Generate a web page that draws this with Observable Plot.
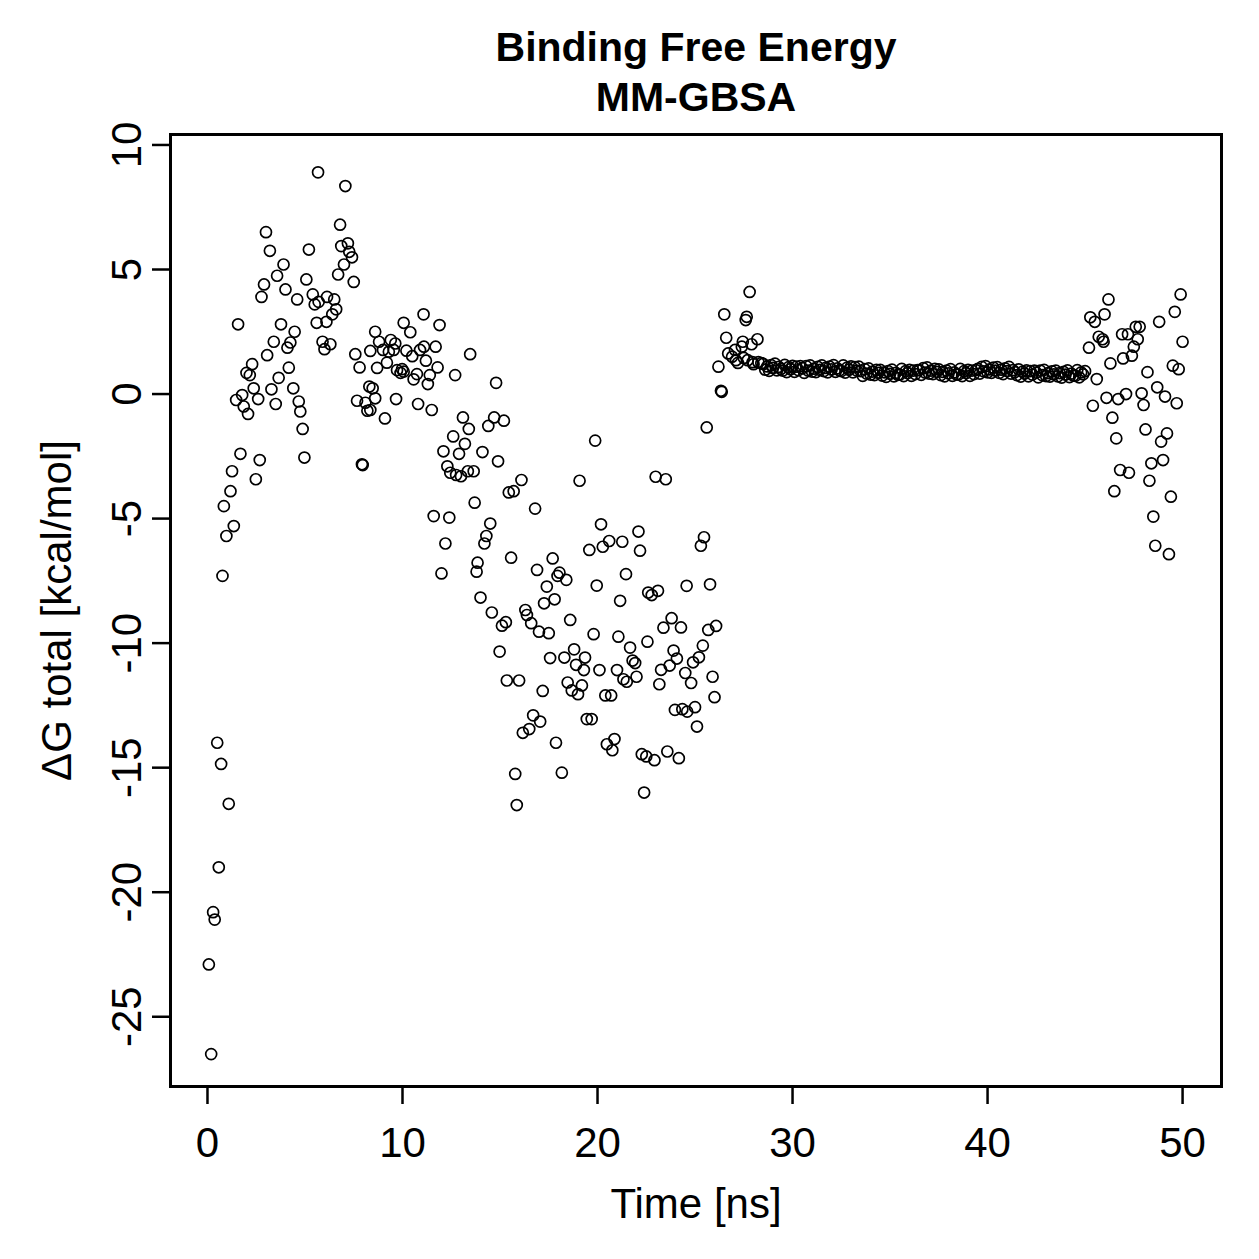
<!DOCTYPE html>
<html>
<head>
<meta charset="utf-8">
<script src="https://cdn.jsdelivr.net/npm/d3@7"></script>
<script src="https://cdn.jsdelivr.net/npm/@observablehq/plot@0.6"></script>
<style>
  body { margin: 0; background: #fff; }
</style>
</head>
<body>
<div id="chart"></div>
<script>
// MM-GBSA binding free energy per frame: [time (ns), ΔG total (kcal/mol)]
const rampPoints = [
  [0.07,-22.9],[0.19,-26.5],[0.29,-20.8],[0.37,-21.1],[0.50,-14.0],[0.58,-19.0],[0.70,-14.85],[0.77,-7.3],
  [0.84,-4.5],[0.97,-5.7],[1.09,-16.45],[1.18,-3.9],[1.26,-3.1],[1.35,-5.3],[1.47,-0.24],[1.57,2.8],
  [1.69,-2.4],[1.78,-0.04],[1.86,-0.5],[2.0,0.85],[2.08,-0.8],[2.17,0.76],[2.29,1.2],[2.37,0.23],
  [2.48,-3.42],[2.6,-0.2],[2.68,-2.65],[2.77,3.9],[2.9,4.4],[3.0,6.5],[3.06,1.56],[3.2,5.75],
  [3.28,0.19],[3.4,2.1],[3.5,-0.4],[3.57,4.75],[3.65,0.65],[3.77,2.8],[3.9,5.2],[4.0,4.2],
  [4.1,1.86],[4.17,1.06],[4.25,2.07],[4.4,0.23],[4.47,2.5],[4.6,3.8],[4.68,-0.3],[4.76,-0.7],
  [4.88,-1.4],[4.97,-2.55],[5.07,4.6],[5.2,5.8],[5.4,4.0],[5.5,3.6],[5.6,2.86],[5.67,8.9],
  [5.7,3.7],[5.9,2.1],[6.0,1.8],[6.13,3.9],[6.1,2.9],[6.3,2.0],[6.4,3.2],[6.5,3.8],
  [6.6,3.4],[6.7,4.8],[6.8,6.8],[6.86,5.94],[7.0,5.2],[7.07,8.35],[7.2,6.05],[7.27,5.71],
  [7.41,5.49],[7.5,4.5],[7.58,1.6],[7.67,-0.27],[7.8,1.07],[7.92,-2.82],[7.96,-2.85]
];

const dropPoints = [
  [8.1,-0.35],[8.2,-0.67],[8.3,0.3],[8.35,1.73],[8.35,-0.64],[8.47,0.23],[8.6,2.5],[8.6,-0.17],
  [8.7,1.05],[8.8,2.1],[9.0,1.77],[9.1,-0.98],[9.2,1.26],[9.3,1.7],[9.4,2.17],[9.55,1.77],
  [9.63,2.03],[9.67,-0.2],[9.72,0.96],[9.9,0.85],[9.98,1.0],[10.06,2.86],[10.06,0.9],[10.2,1.74],
  [10.4,2.48],[10.5,1.52],[10.57,0.59],[10.74,0.8],[10.8,-0.4],[10.9,1.77],[11.08,3.2],[11.1,1.9],
  [11.2,1.34],[11.3,0.4],[11.4,0.76],[11.5,-0.64],[11.6,-4.9],[11.7,1.9],[11.8,1.07],[11.9,2.77],
  [12.0,-7.2],[12.1,-2.3],[12.2,-6.0],[12.3,-2.9],[12.4,-4.96],[12.45,-3.16],[12.6,-1.7],[12.7,0.76],
  [12.75,-3.25],[12.9,-2.4],[13.0,-3.3],[13.1,-0.94],[13.2,-2.0],[13.35,-3.1],[13.4,-1.4],[13.47,1.6],
  [13.65,-3.1],[13.7,-4.36],[13.8,-7.13],[13.85,-6.77],[14.0,-8.17],[14.1,-2.33],[14.2,-6.0],[14.3,-5.7],
  [14.4,-1.28],[14.5,-5.2],[14.58,-8.77],[14.7,-0.94],[14.8,0.45],[14.9,-2.7],[14.98,-10.34],[15.1,-9.3],
  [15.2,-1.07],[15.3,-9.16],[15.35,-11.5],[15.45,-3.95],[15.57,-6.57],[15.7,-3.9],[15.78,-15.25],[15.86,-16.5],
  [15.98,-11.5],[16.1,-3.45],[16.17,-13.6],[16.3,-8.67],[16.38,-8.87],[16.5,-13.45],[16.6,-9.2],[16.7,-12.9],
  [16.8,-4.6],[16.9,-7.06],[17.0,-9.54],[17.06,-13.15],[17.19,-11.92],[17.26,-8.4],[17.4,-7.73],[17.5,-9.6],
  [17.57,-10.6],[17.7,-6.6],[17.8,-8.24],[17.87,-14.0],[17.95,-7.3],[18.05,-7.17],[18.17,-15.2],[18.3,-10.58],
  [18.4,-7.46],[18.47,-11.58],[18.6,-9.07],[18.68,-11.9],[18.8,-10.25],[18.9,-10.87],[19.0,-12.05],[19.08,-3.48],
  [19.2,-11.7],[19.3,-11.08],[19.36,-10.58],[19.45,-13.05],[19.58,-6.26],[19.7,-13.05],[19.8,-9.64],[19.88,-1.87],
  [19.96,-7.69],[20.1,-11.08],[20.18,-5.23],[20.27,-6.13],[20.4,-12.1],[20.48,-14.06],[20.6,-5.9],[20.7,-12.1],
  [20.76,-14.3],[20.87,-13.85],[21.0,-11.08],[21.07,-9.74],[21.16,-8.3],[21.27,-5.93],[21.33,-11.45],[21.46,-7.23],
  [21.5,-11.55],[21.67,-10.18],[21.8,-10.7],[21.93,-10.8],[22.0,-11.35],[22.1,-5.52],[22.18,-6.29],[22.27,-14.46],
  [22.39,-16.0],[22.5,-14.55],[22.56,-9.94],[22.6,-7.97],[22.78,-8.07],[22.92,-14.7],[22.98,-3.32],[23.1,-7.9],
  [23.17,-11.65],[23.26,-11.07],[23.38,-9.38],[23.5,-3.42],[23.58,-14.35],[23.7,-10.9],[23.8,-9.0],[23.9,-10.3],
  [23.97,-12.68],[24.07,-10.62],[24.17,-14.62],[24.28,-9.37],[24.35,-12.65],[24.5,-11.2],[24.57,-7.7],[24.6,-12.75],
  [24.8,-11.6],[24.9,-10.77],[25.0,-12.57],[25.1,-13.35],[25.2,-10.57],[25.3,-6.09],[25.4,-10.1],[25.46,-5.75],
  [25.6,-1.34],[25.68,-9.47],[25.77,-7.64],[25.9,-11.35],[26.0,-12.17],[26.08,-9.31]
];

const risePoints = [
  [26.2,1.1],[26.33,0.13],[26.37,0.09],[26.5,3.2],[26.6,2.26],[26.7,1.63],[26.9,1.5],[27.05,1.77],
  [27.1,1.36],[27.2,1.25],[27.4,1.9],[27.45,2.1],[27.5,1.45],[27.6,2.97],[27.65,3.1],[27.7,1.36],
  [27.8,4.1],[27.9,2.0],[27.95,1.28],[28.0,1.2],[28.2,2.2],[28.25,1.28],[28.4,1.24]
];

const plateauPoints = [
  [28.5,1.21],[28.6,0.98],[28.7,1.11],[28.8,0.93],[28.9,1.16],[29.0,1.05],[29.1,1.22],[29.2,0.95],[29.3,1.09],[29.4,1.01],
  [29.5,0.94],[29.6,1.17],[29.7,0.88],[29.8,1.08],[29.9,1.00],[30.0,1.13],[30.1,0.89],[30.2,1.10],[30.3,0.96],[30.4,1.12],
  [30.5,1.04],[30.6,0.85],[30.7,1.12],[30.8,0.94],[30.9,1.15],[31.0,0.90],[31.1,1.02],[31.2,0.88],[31.3,1.09],[31.4,0.97],
  [31.5,1.15],[31.6,0.92],[31.7,1.05],[31.8,0.87],[31.9,1.10],[32.0,0.99],[32.1,1.16],[32.2,0.89],[32.3,1.03],[32.4,0.95],
  [32.5,0.92],[32.6,1.15],[32.7,0.86],[32.8,1.06],[32.9,0.98],[33.0,1.11],[33.1,0.87],[33.2,1.08],[33.3,0.94],[33.4,1.10],
  [33.5,0.92],[33.6,0.73],[33.7,1.00],[33.8,0.82],[33.9,1.03],[34.0,0.78],[34.1,0.90],[34.2,0.76],[34.3,0.97],[34.4,0.85],
  [34.5,0.97],[34.6,0.74],[34.7,0.87],[34.8,0.69],[34.9,0.92],[35.0,0.81],[35.1,0.98],[35.2,0.71],[35.3,0.85],[35.4,0.77],
  [35.5,0.78],[35.6,1.01],[35.7,0.72],[35.8,0.92],[35.9,0.84],[36.0,0.97],[36.1,0.73],[36.2,0.94],[36.3,0.80],[36.4,0.96],
  [36.5,0.96],[36.6,0.77],[36.7,1.04],[36.8,0.86],[36.9,1.07],[37.0,0.82],[37.1,0.94],[37.2,0.80],[37.3,1.01],[37.4,0.89],
  [37.5,0.99],[37.6,0.76],[37.7,0.89],[37.8,0.71],[37.9,0.94],[38.0,0.83],[38.1,1.00],[38.2,0.73],[38.3,0.87],[38.4,0.79],
  [38.5,0.78],[38.6,1.01],[38.7,0.72],[38.8,0.92],[38.9,0.84],[39.0,0.97],[39.1,0.73],[39.2,0.94],[39.3,0.80],[39.4,0.96],
  [39.5,1.01],[39.6,0.82],[39.7,1.09],[39.8,0.91],[39.9,1.12],[40.0,0.87],[40.1,0.99],[40.2,0.85],[40.3,1.06],[40.4,0.94],
  [40.5,1.08],[40.6,0.85],[40.7,0.98],[40.8,0.80],[40.9,1.03],[41.0,0.92],[41.1,1.09],[41.2,0.82],[41.3,0.96],[41.4,0.88],
  [41.5,0.76],[41.6,0.99],[41.7,0.70],[41.8,0.90],[41.9,0.82],[42.0,0.95],[42.1,0.71],[42.2,0.92],[42.3,0.78],[42.4,0.94],
  [42.5,0.86],[42.6,0.67],[42.7,0.94],[42.8,0.76],[42.9,0.97],[43.0,0.72],[43.1,0.84],[43.2,0.70],[43.3,0.91],[43.4,0.79],
  [43.5,0.94],[43.6,0.71],[43.7,0.84],[43.8,0.66],[43.9,0.89],[44.0,0.78],[44.1,0.95],[44.2,0.68],[44.3,0.82],[44.4,0.74],
  [44.5,0.73],[44.6,0.96],[44.7,0.67],[44.8,0.87],[44.9,0.79],[45.0,0.92]
];

const tailPoints = [
  [45.2,1.86],[45.27,3.08],[45.4,-0.47],[45.5,2.9],[45.6,0.6],[45.7,2.3],[45.9,2.2],[45.95,2.1],
  [46.0,3.2],[46.1,-0.15],[46.2,3.8],[46.3,1.23],[46.4,-0.95],[46.5,-3.9],[46.6,-1.78],[46.7,-0.2],
  [46.8,-3.05],[46.9,2.4],[46.95,1.43],[47.1,0.0],[47.2,2.4],[47.25,-3.16],[47.4,1.54],[47.5,1.9],
  [47.6,2.7],[47.7,2.2],[47.8,2.7],[47.9,0.03],[48.0,-0.44],[48.1,-1.42],[48.2,0.88],[48.3,-3.48],
  [48.4,-2.78],[48.5,-4.92],[48.6,-6.09],[48.7,0.27],[48.8,2.9],[48.9,-1.91],[49.0,-2.65],[49.1,-0.1],
  [49.2,-1.58],[49.3,-6.43],[49.4,-4.12],[49.5,1.14],[49.6,3.3],[49.7,-0.37],[49.8,1.0],[49.9,4.0],
  [50.0,2.1]
];

const xTicks = [0, 10, 20, 30, 40, 50];
const yTicks = [-25, -20, -15, -10, -5, 0, 5, 10];
const titleLines = ["Binding Free Energy", "MM-GBSA"];
const xLabel = "Time [ns]";
const yLabel = "ΔG total [kcal/mol]";

const frames = [...rampPoints, ...dropPoints, ...risePoints, ...plateauPoints, ...tailPoints]
  .map(([t, g]) => ({t, g}));

const font = "'Liberation Sans', Arial, Helvetica, sans-serif";
// plain hyphen-minus for negative tick labels
const plainNumber = d => String(d);

const chart = Plot.plot({
  width: 1259,
  height: 1259,
  marginLeft: 170,
  marginRight: 38,
  marginTop: 134,
  marginBottom: 173,
  style: {fontFamily: font, fontSize: "42px", background: "white", color: "black"},
  x: {domain: [-1.896, 51.996]},
  y: {domain: [-27.8, 10.42]},
  marks: [
    Plot.axisX(xTicks, {tickSize: 18, tickPadding: 23, strokeWidth: 2.5, fontSize: 42, tickFormat: plainNumber, label: null}),
    Plot.axisY(yTicks, {tickSize: 18, tickPadding: 12, tickRotate: -90, strokeWidth: 2.5, fontSize: 42, tickFormat: plainNumber, label: null}),
    Plot.frame({stroke: "black", strokeWidth: 3}),
    Plot.dot(frames, {x: "t", y: "g", r: 5.5, stroke: "black", strokeWidth: 1.7, fill: "none"}),
    // axis titles
    Plot.text([xLabel], {text: d => d, frameAnchor: "bottom", dy: 131, lineAnchor: "bottom", fontSize: 42}),
    Plot.text([yLabel], {text: d => d, frameAnchor: "left", dx: -100, rotate: -90, lineAnchor: "bottom", textAnchor: "middle", fontSize: 42}),
    // two-line bold title
    Plot.text([titleLines[0]], {text: d => d, frameAnchor: "top", dy: -74, lineAnchor: "bottom", fontSize: 41, fontWeight: "bold"}),
    Plot.text([titleLines[1]], {text: d => d, frameAnchor: "top", dy: -24, lineAnchor: "bottom", fontSize: 41, fontWeight: "bold"})
  ]
});

document.getElementById("chart").appendChild(chart);
</script>
</body>
</html>
